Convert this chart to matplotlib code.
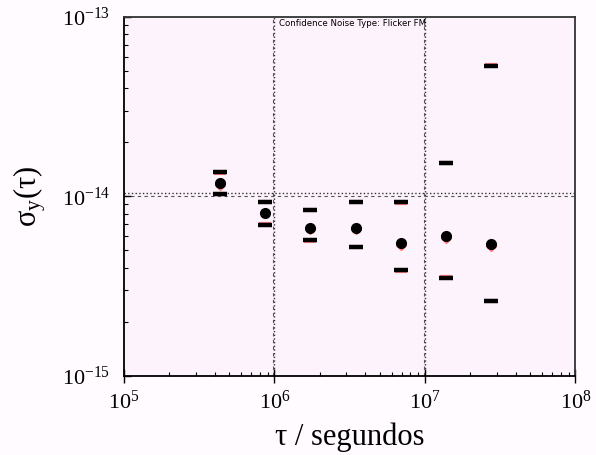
import matplotlib
matplotlib.use('Agg')
import matplotlib.pyplot as plt
import numpy as np
from matplotlib.ticker import LogFormatterMathtext, NullFormatter

plt.rcParams['font.family'] = 'Liberation Serif'
plt.rcParams['mathtext.fontset'] = 'custom'
plt.rcParams['mathtext.rm'] = 'Liberation Serif'
plt.rcParams['mathtext.it'] = 'Liberation Serif:italic'

# averaging times (s)
tau = [4.32e5, 8.64e5, 1.728e6, 3.456e6, 6.912e6, 1.3824e7, 2.7648e7]

# Allan deviation, black series (value + confidence limits)
sig = [1.18e-14, 8.03e-15, 6.62e-15, 6.62e-15, 5.47e-15, 6.0e-15, 5.42e-15]
sig_hi = [1.37e-14, 9.29e-15, 8.41e-15, 9.33e-15, 9.29e-15, 1.53e-14, 5.33e-14]
sig_lo = [1.03e-14, 6.94e-15, 5.72e-15, 5.19e-15, 3.88e-15, 3.51e-15, 2.61e-15]

# second (red) series, nearly the same
sig2 = [1.15e-14, 8.1e-15, 6.6e-15, 6.6e-15, 5.32e-15, 5.83e-15, 5.28e-15]
sig2_hi = [1.35e-14, 9.29e-15, 8.41e-15, 9.33e-15, 9.12e-15, 1.53e-14, 5.42e-14]
sig2_lo = [1.03e-14, 7.02e-15, 5.64e-15, 5.19e-15, 3.83e-15, 3.55e-15, 2.59e-15]

xticks = [1e5, 1e6, 1e7, 1e8]
yticks = [1e-15, 1e-14, 1e-13]

fig = plt.figure(figsize=(5.96, 4.55), dpi=100, facecolor='#fffbff')
ax = fig.add_axes([0.208, 0.1747, 0.7576, 0.7879])
ax.set_facecolor('#fdf3fc')
ax.set_xscale('log')
ax.set_yscale('log')
ax.set_xticks(xticks)
ax.set_yticks(yticks)
ax.set_xlim(1e5, 1e8)
ax.set_ylim(1e-15, 1e-13)

# reference lines
for xv in [1e6, 1e7]:
    ax.axvline(xv, color='#333333', ls=':', lw=1, zorder=1)
    ax.axvline(xv * 0.98, color='#555555', ls=(0, (3, 3)), lw=0.8, zorder=1)
ax.axhline(1.045e-14, color='#333333', ls=':', lw=1, zorder=1)
ax.axhline(1e-14, color='#555555', ls=(0, (3, 3)), lw=0.8, zorder=1)

# red series behind
ax.plot(tau, sig2, 'D', ms=5, mfc='none', mec='#ff7070', mew=1, zorder=2)
ax.plot(tau, sig2_hi, '_', ms=9, mew=3, color='#ff8080', zorder=2)
ax.plot(tau, sig2_lo, '_', ms=9, mew=3, color='#ff8080', zorder=2)

# black series
ax.plot(tau, sig, 'o', ms=7, color='black', zorder=3)
ax.plot(tau, sig_hi, '_', ms=10, mew=3.2, color='black', zorder=3)
ax.plot(tau, sig_lo, '_', ms=10, mew=3.2, color='black', zorder=3)

ax.text(1.07e6, 9.2e-14, 'Confidence Noise Type: Flicker FM',
        family='DejaVu Sans', fontsize=6.2, va='center', ha='left')

ax.xaxis.set_major_formatter(LogFormatterMathtext())
ax.yaxis.set_major_formatter(LogFormatterMathtext())
ax.xaxis.set_minor_formatter(NullFormatter())
ax.yaxis.set_minor_formatter(NullFormatter())
ax.tick_params(axis='x', which='major', direction='inout', length=10, width=1,
               labelsize=16, pad=6, top=False)
ax.tick_params(axis='y', which='major', direction='in', length=5, width=1,
               labelsize=16, pad=10, right=False)
ax.tick_params(axis='both', which='minor', direction='in', length=3, width=0.8,
               top=False, right=False)

for s in ax.spines.values():
    s.set_linewidth(1.3)
ax.spines['top'].set_color('#333333')
ax.spines['right'].set_color('#333333')

ax.set_xlabel(r'τ / segundos', fontsize=22, labelpad=6)
ax.set_ylabel(r'$\mathrm{σ_y(τ)}$', fontsize=22, labelpad=10)

fig.savefig('out.png', dpi=100, facecolor=fig.get_facecolor())
